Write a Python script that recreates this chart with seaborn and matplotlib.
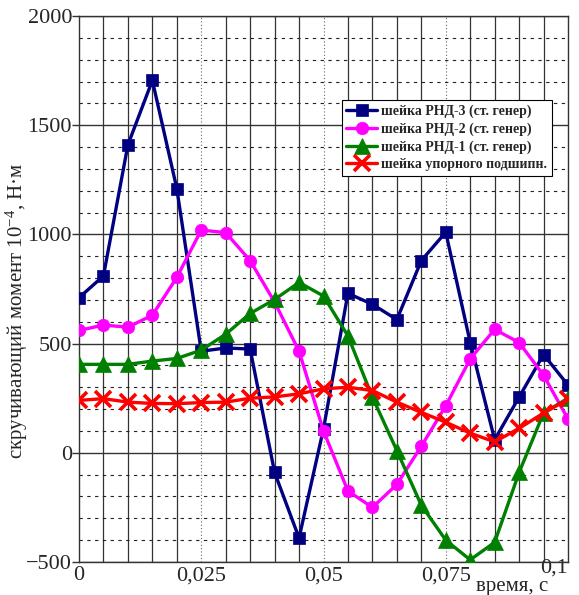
import matplotlib
matplotlib.use("Agg")
import matplotlib.pyplot as plt
import seaborn as sns
import pandas as pd
import numpy as np
from matplotlib.ticker import MultipleLocator, FixedLocator, FixedFormatter

sns.set_style("white")
plt.rcParams['font.family'] = ['Liberation Serif', 'DejaVu Serif']
plt.rcParams['mathtext.fontset'] = 'custom'
plt.rcParams['mathtext.rm'] = 'Liberation Serif'
plt.rcParams['mathtext.it'] = 'Liberation Serif:italic'

# time, s
t = [0.0, 0.005, 0.01, 0.015, 0.02, 0.025, 0.03, 0.035, 0.04, 0.045, 0.05,
     0.055, 0.06, 0.065, 0.07, 0.075, 0.08, 0.085, 0.09, 0.095, 0.1]

rnd3 = [710, 810, 1410, 1705, 1210, 465, 480, 475, -90, -390, 110,
        730, 680, 610, 880, 1010, 505, 60, 255, 450, 310]
rnd2 = [560, 585, 575, 630, 803, 1020, 1008, 880, 690, 465, 100,
        -175, -250, -145, 30, 215, 430, 565, 505, 355, 155]
rnd1 = [405, 405, 405, 420, 432, 470, 543, 638, 702, 780, 718,
        535, 255, 10, -240, -400, -490, -410, -90, 182, 250]
thrust = [240, 248, 232, 226, 225, 230, 232, 250, 256, 270, 293,
          300, 285, 232, 185, 140, 90, 50, 112, 182, 245]

labels = ["шейка РНД-3 (ст. генер)", "шейка РНД-2 (ст. генер)",
          "шейка РНД-1 (ст. генер)", "шейка упорного подшипн."]
series = [rnd3, rnd2, rnd1, thrust]
colors = ["#000080", "#ff00ff", "#008000", "#ff0000"]
markers = ["s", "o", "^", "x"]
msizes = [8, 9, 11, 12]

y_ticks = [-500, 0, 500, 1000, 1500, 2000]
x_ticks = [0, 0.025, 0.05, 0.075, 0.1]
x_ticklabels = ["0", "0,025", "0,05", "0,075", "0,1"]

fig = plt.figure(figsize=(5.79, 5.95), dpi=100)
ax = fig.add_axes([79/579, 33/595, (568-79)/579, (562-16)/595])

for lab, vals, c, m, ms in zip(labels, series, colors, markers, msizes):
    df = pd.DataFrame({"t": t, "M": vals})
    kw = dict(markeredgecolor=c, markerfacecolor=c)
    if m == "x":
        kw["markeredgewidth"] = 2.6
    else:
        kw["markeredgewidth"] = 0.5
    sns.lineplot(data=df, x="t", y="M", ax=ax, color=c, marker=m,
                 markersize=ms, linewidth=2.4, label=lab, zorder=3, **kw)

ax.set_xlim(0, 0.1)
ax.set_ylim(-500, 2000)

ax.xaxis.set_major_locator(FixedLocator(x_ticks))
ax.xaxis.set_major_formatter(FixedFormatter(x_ticklabels))
ax.xaxis.set_minor_locator(MultipleLocator(0.005))
ax.yaxis.set_major_locator(FixedLocator(y_ticks))
ax.yaxis.set_minor_locator(MultipleLocator(100))

ax.grid(which="major", axis="x", color="#666666", linestyle=(0, (1, 2)), linewidth=0.8)
ax.grid(which="minor", axis="x", color="#333333", linestyle="-", linewidth=0.9)
ax.grid(which="major", axis="y", color="#333333", linestyle="-", linewidth=1.0)
ax.grid(which="minor", axis="y", color="#222222", linestyle=(0, (3, 4)), linewidth=0.8)
ax.set_axisbelow(True)

for s in ax.spines.values():
    s.set_color("#333333")
    s.set_linewidth(1.0)

ax.tick_params(axis="y", which="major", length=5, width=1, color="#333333",
               labelsize=16, pad=0, direction="out")
ax.tick_params(axis="y", which="minor", length=0)
ax.tick_params(axis="x", which="both", length=0, labelsize=16, pad=3)
ax.yaxis.set_ticks_position("left")
ax.xaxis.set_ticks_position("bottom")

# raise the last x tick label and keep it inside the picture
xt = ax.get_xticklabels()
xt[-1].set_y(0.014)
xt[-1].set_horizontalalignment("right")
xt[-1].set_x(0.1 + 0.0025)

ax.set_xlabel("")
ax.set_ylabel("")
fig.text(512/579, 1 - 586/595, "время, с", fontsize=15, ha="center", va="center")
fig.text(17/579, 1 - 311/595, "скручивающий момент 10$^{-4}$, Н·м", fontsize=15,
         rotation=90, ha="center", va="center")

leg = ax.legend(loc="upper right", bbox_to_anchor=(552/579, 1 - 100/595),
                bbox_transform=fig.transFigure, frameon=True, fancybox=False,
                framealpha=1, edgecolor="black", handlelength=2.2,
                handletextpad=0.3, labelspacing=0.3, borderpad=0.35,
                borderaxespad=0, prop={"family": "Liberation Serif", "size": 10, "weight": "bold"})
leg.get_frame().set_linewidth(0.8)

fig.savefig("out.png", dpi=100)
